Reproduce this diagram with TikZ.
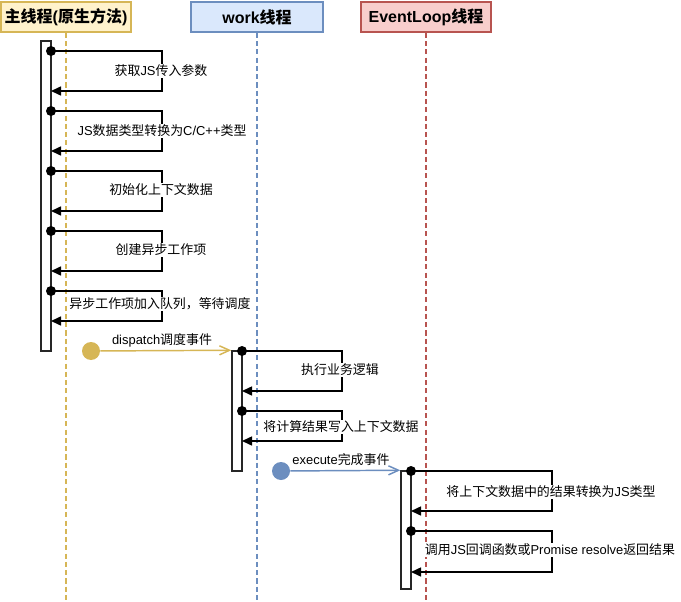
\documentclass[tikz,border=0pt]{standalone}
\usepackage{fontspec}
\setmainfont{Liberation Sans}
\newfontfamily\latinf{Liberation Sans}
\newfontfamily\cjkf{Noto Sans CJK SC}
\usetikzlibrary{arrows.meta}
\XeTeXinterchartokenstate=1
\newXeTeXintercharclass\CJKcls
\newcount\cjkc
\cjkc="4E00
\loop
\XeTeXcharclass\cjkc=\CJKcls
\ifnum\cjkc<"9FFF \advance\cjkc by 1 \repeat
\XeTeXcharclass"FF0C=\CJKcls
\XeTeXcharclass"3001=\CJKcls
\XeTeXcharclass"3002=\CJKcls
\XeTeXinterchartoks 0 \CJKcls = {\cjkf}
\XeTeXinterchartoks 4095 \CJKcls = {\cjkf}
\XeTeXinterchartoks \CJKcls 0 = {\latinf}
\XeTeXinterchartoks \CJKcls 4095 = {\latinf}
\definecolor{yfill}{HTML}{FFF2CC}
\definecolor{ystroke}{HTML}{D6B656}
\definecolor{bfill}{HTML}{DAE8FC}
\definecolor{bstroke}{HTML}{6C8EBF}
\definecolor{rfill}{HTML}{F8CECC}
\definecolor{rstroke}{HTML}{B85450}
\begin{document}
\begin{tikzpicture}[x=0.75pt,y=-0.75pt,
  head/.style={draw, line width=1.3pt, minimum height=22.5pt, inner sep=0pt,
    font=\fontsize{12}{15}\selectfont\bfseries},
  life/.style={line width=1.1pt, dash pattern=on 3.8pt off 2.4pt},
  actbar/.style={draw=black!85, fill=white, line width=1.1pt, minimum width=7.5pt, inner sep=0pt},
  msg/.style={line width=1.15pt, line join=miter, -{Triangle[length=7.5pt,width=6.75pt]}},
  lbl/.style={fill=white, inner sep=1pt, font=\fontsize{9.7}{12}\selectfont},
  dot/.style={circle, fill=black, inner sep=0pt, minimum size=7.5pt},
  bigdot/.style={circle, inner sep=0pt, minimum size=13.5pt},
  evt/.style={line width=1.1pt, -{Straight Barb[length=7.5pt,width=6.75pt]}},
]
\useasboundingbox (0,0) rectangle (681,602);

% headers
\node[head, fill=yfill, draw=ystroke, minimum width=97.5pt] (h1) at (66,17) {主线程(原生方法)};
\node[head, fill=bfill, draw=bstroke, minimum width=99pt] (h2) at (257,17) {work线程};
\node[head, fill=rfill, draw=rstroke, minimum width=98pt] (h3) at (426,17) {EventLoop线程};

% lifelines
\coordinate (l1) at (66,602);
\coordinate (l2) at (257,602);
\coordinate (l3) at (426,602);
\draw[life, draw=ystroke] (h1.south) -- (l1);
\draw[life, draw=bstroke] (h2.south) -- (l2);
\draw[life, draw=rstroke] (h3.south) -- (l3);

% activation bars
\node[actbar, minimum height=232.5pt] (a1) at (46,196) {};
\node[actbar, minimum height=90pt] (a2) at (237,411) {};
\node[actbar, minimum height=88.5pt] (a3) at (406,530) {};

% main thread self messages
\coordinate (s1) at (51,51);  \coordinate (e1) at (51,91);
\coordinate (s2) at (51,111); \coordinate (e2) at (51,151);
\coordinate (s3) at (51,171); \coordinate (e3) at (51,211);
\coordinate (s4) at (51,231); \coordinate (e4) at (51,271);
\coordinate (s5) at (51,291); \coordinate (e5) at (51,321);
\draw[msg] (s1) -- (162,51) -- (162,91) -- (e1);
\draw[msg] (s2) -- (162,111) -- (162,151) -- (e2);
\draw[msg] (s3) -- (162,171) -- (162,211) -- (e3);
\draw[msg] (s4) -- (162,231) -- (162,271) -- (e4);
\draw[msg] (s5) -- (162,291) -- (162,321) -- (e5);
\node[dot] (d1) at (s1) {};
\node[dot] (d2) at (s2) {};
\node[dot] (d3) at (s3) {};
\node[dot] (d4) at (s4) {};
\node[dot] (d5) at (s5) {};
\node[lbl] (t1) at (161,71) {获取JS传入参数};
\node[lbl] (t2) at (162,131) {JS数据类型转换为C/C++类型};
\node[lbl] (t3) at (161,190) {初始化上下文数据};
\node[lbl] (t4) at (161,250) {创建异步工作项};
\node[lbl] (t5) at (160,304) {异步工作项加入队列，等待调度};

% dispatch
\node[bigdot, fill=ystroke] (dsp) at (91,351) {};
\draw[evt, ystroke] (dsp) -- (a2.north west);
\node[lbl, fill=none] (tdsp) at (162,340) {dispatch调度事件};

% work thread self messages
\coordinate (s6) at (242,351); \coordinate (e6) at (242,391);
\coordinate (s7) at (242,411); \coordinate (e7) at (242,441);
\draw[msg] (s6) -- (342,351) -- (342,391) -- (e6);
\draw[msg] (s7) -- (342,411) -- (342,441) -- (e7);
\node[dot] (d6) at (s6) {};
\node[dot] (d7) at (s7) {};
\node[lbl] (t6) at (340,370) {执行业务逻辑};
\node[lbl] (t7) at (341,427) {将计算结果写入上下文数据};

% execute
\node[bigdot, fill=bstroke] (exe) at (281,471) {};
\draw[evt, bstroke] (exe) -- (a3.north west);
\node[lbl, fill=none] (texe) at (341,460) {execute完成事件};

% event loop self messages
\coordinate (s8) at (411,471); \coordinate (e8) at (411,511);
\coordinate (s9) at (411,531); \coordinate (e9) at (411,572);
\draw[msg] (s8) -- (552,471) -- (552,511) -- (e8);
\draw[msg] (s9) -- (552,531) -- (552,572) -- (e9);
\node[dot] (d8) at (s8) {};
\node[dot] (d9) at (s9) {};
\node[lbl] (t8) at (551,492) {将上下文数据中的结果转换为JS类型};
\node[lbl] (t9) at (550,550) {调用JS回调函数或Promise resolve返回结果};
\end{tikzpicture}
\end{document}
